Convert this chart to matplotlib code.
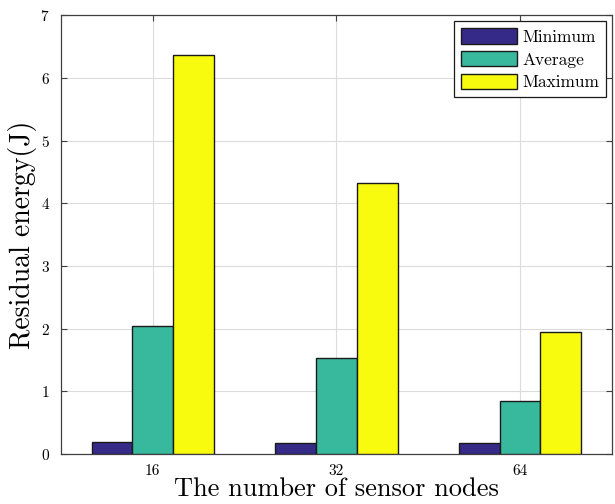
import numpy as np
import matplotlib
matplotlib.use("Agg")
import matplotlib.pyplot as plt

plt.rcParams['font.family'] = 'serif'
plt.rcParams['font.serif'] = ['cmr10', 'DejaVu Serif']
plt.rcParams['axes.formatter.use_mathtext'] = True
plt.rcParams['mathtext.fontset'] = 'cm'

nodes = ['16', '32', '64']
minimum = [0.19, 0.18, 0.17]
average = [2.05, 1.54, 0.84]
maximum = [6.37, 4.33, 1.94]

colors = ['#352A87', '#38B99E', '#F9FB0E']
labels = ['Minimum', 'Average', 'Maximum']

fig = plt.figure(figsize=(6.15, 5.04), dpi=100)
ax = fig.add_axes([0.099, 0.099, 0.896, 0.871])

x = np.arange(1, len(nodes) + 1)
w = 0.222
for i, (vals, c, lab) in enumerate(zip([minimum, average, maximum], colors, labels)):
    ax.bar(x + (i - 1) * w, vals, w, color=c, edgecolor='#1a1a1a', linewidth=1.0,
           label=lab, zorder=3)

ax.set_xlim(0.5, 3.5)
ax.set_ylim(0, 7)
ax.set_xticks(x)
ax.set_xticklabels(nodes)
ax.set_yticks(range(0, 8))
ax.tick_params(direction='in', top=True, right=True, labelsize=11, length=4,
               color='#404040', pad=8)
ax.tick_params(axis='x', pad=7)
ax.grid(True, color='#dcdcdc', linewidth=0.8, zorder=0)
for s in ax.spines.values():
    s.set_color('#404040')
    s.set_linewidth(0.9)

ax.set_xlabel('The number of sensor nodes', fontsize=19, labelpad=0)
ax.set_ylabel('Residual energy(J)', fontsize=20, labelpad=2.5)

leg = ax.legend(loc='upper right', fontsize=12.5, fancybox=False, edgecolor='#1a1a1a',
                framealpha=1, handlelength=3.2, handleheight=1.0, borderpad=0.4,
                labelspacing=0.35, handletextpad=0.3, borderaxespad=0.35)
leg.get_frame().set_linewidth(0.9)

fig.savefig('out.png', dpi=100)
